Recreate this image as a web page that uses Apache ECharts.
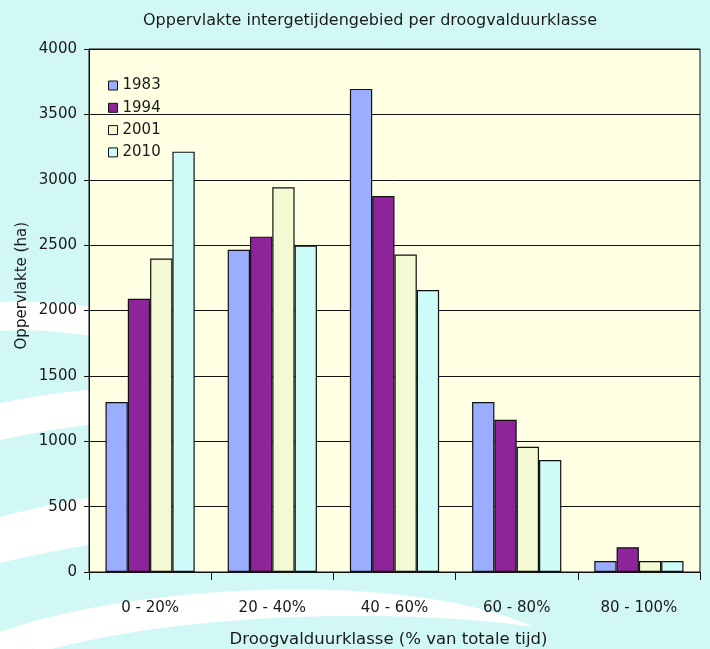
<!DOCTYPE html>
<html>
<head>
<meta charset="utf-8">
<script src="https://cdn.jsdelivr.net/npm/echarts@6/dist/echarts.min.js"></script>
<style>
html,body{margin:0;padding:0;background:#d2f8f6;}
#c{width:710px;height:649px;}
</style>
</head>
<body>
<div id="c"></div>
<script>
const categories = ['0 - 20%', '20 - 40%', '40 - 60%', '60 - 80%', '80 - 100%'];
const years = ['1983', '1994', '2001', '2010'];
const values1983 = [1300, 2465, 3695, 1300, 84];
const values1994 = [2090, 2565, 2875, 1165, 189];
const values2001 = [2397, 2942, 2428, 958, 84];
const values2010 = [3215, 2497, 2157, 857, 84];
const yTicks = [0, 500, 1000, 1500, 2000, 2500, 3000, 3500, 4000];
const titleText = 'Oppervlakte intergetijdengebied per droogvalduurklasse';
const xAxisTitle = 'Droogvalduurklasse (% van totale tijd)';
const yAxisTitle = 'Oppervlakte (ha)';

const seriesValues = [values1983, values1994, values2001, values2010];
const colors = ['#9aadff', '#8e2499', '#f3f9d2', '#ccfbf8'];
const FONT = 'DejaVu Sans';
const TXT = '#1a1a1a';

// decorative background swooshes: sample bezier edges into polygons
function bez(p, n) {
  const out = [];
  for (let k = 0; k <= n; k++) {
    const t = k / n, u = 1 - t;
    if (p.length === 3) {
      out.push([u*u*p[0][0] + 2*u*t*p[1][0] + t*t*p[2][0], u*u*p[0][1] + 2*u*t*p[1][1] + t*t*p[2][1]]);
    } else {
      out.push([u*u*u*p[0][0] + 3*u*u*t*p[1][0] + 3*u*t*t*p[2][0] + t*t*t*p[3][0],
                u*u*u*p[0][1] + 3*u*u*t*p[1][1] + 3*u*t*t*p[2][1] + t*t*t*p[3][1]]);
    }
  }
  return out;
}
function band(upper, lower) {
  return {type: 'polygon', z: -10, silent: true,
    shape: {points: bez(upper, 30).concat(bez(lower, 30))},
    style: {fill: '#ffffff'}};
}

const chart = echarts.init(document.getElementById('c'), null, {renderer: 'canvas'});
chart.setOption({
  backgroundColor: '#d2f8f6',
  animation: false,
  textStyle: {fontFamily: FONT},
  title: {
    text: titleText,
    left: 365, top: 8, textAlign: 'center',
    textStyle: {fontFamily: FONT, fontSize: 16, fontWeight: 'normal', color: TXT}
  },
  graphic: [
    band([[0,302],[45,300],[95,307]], [[95,337],[45,328],[0,331]]),
    band([[0,403],[45,394],[95,389]], [[95,424],[45,430],[0,440]]),
    band([[0,517],[45,505],[95,497]], [[95,544],[45,552],[0,563]]),
    band([[0,632],[130,585],[400,568],[534,627]], [[534,627],[420,610],[200,608],[40,652]]),
    {type: 'polygon', z: -10, silent: true, shape: {points: [[0,632],[40,652],[0,652]]}, style: {fill: '#ffffff'}},
    {type: 'text', left: 15, top: 222, rotation: Math.PI / 2, silent: true,
     style: {text: yAxisTitle, fontFamily: FONT, fontSize: 15, fill: TXT}}
  ],
  legend: {
    data: years,
    orient: 'vertical',
    left: 103, top: 72,
    icon: 'rect',
    itemWidth: 9, itemHeight: 9,
    itemGap: 5.3,
    textStyle: {fontFamily: FONT, fontSize: 15, color: TXT, lineHeight: 17},
    itemStyle: {borderColor: '#111', borderWidth: 1}
  },
  grid: {
    left: 89, right: 10, top: 49, bottom: 77,
    show: true, backgroundColor: '#ffffe4', borderColor: '#111', borderWidth: 1,
    containLabel: false,
    outerBoundsMode: 'none'
  },
  xAxis: {
    type: 'category',
    data: categories,
    axisLine: {show: true, lineStyle: {color: '#111', width: 1}},
    axisTick: {show: true, length: 8, lineStyle: {color: '#111'}},
    axisLabel: {margin: 29, fontFamily: FONT, fontSize: 15, color: TXT},
    name: xAxisTitle,
    nameLocation: 'middle',
    nameGap: 59,
    nameTextStyle: {fontFamily: FONT, fontSize: 16.5, color: TXT, padding: [0, 12, 0, 0]}
  },
  yAxis: {
    type: 'value',
    min: 0, max: 4000, interval: 500,
    axisLine: {show: true, lineStyle: {color: '#111', width: 1}},
    axisTick: {show: true, length: 5, lineStyle: {color: '#111'}},
    axisLabel: {margin: 12, fontFamily: FONT, fontSize: 15, color: TXT,
      formatter: v => yTicks.includes(v) ? String(v) : ''},
    splitLine: {show: true, lineStyle: {color: '#111', width: 1}}
  },
  series: years.map((y, i) => ({
    name: y,
    type: 'bar',
    data: seriesValues[i],
    barGap: '0%',
    barCategoryGap: '27%',
    itemStyle: {color: colors[i], borderColor: '#111', borderWidth: 1.2}
  }))
});
</script>
</body>
</html>
